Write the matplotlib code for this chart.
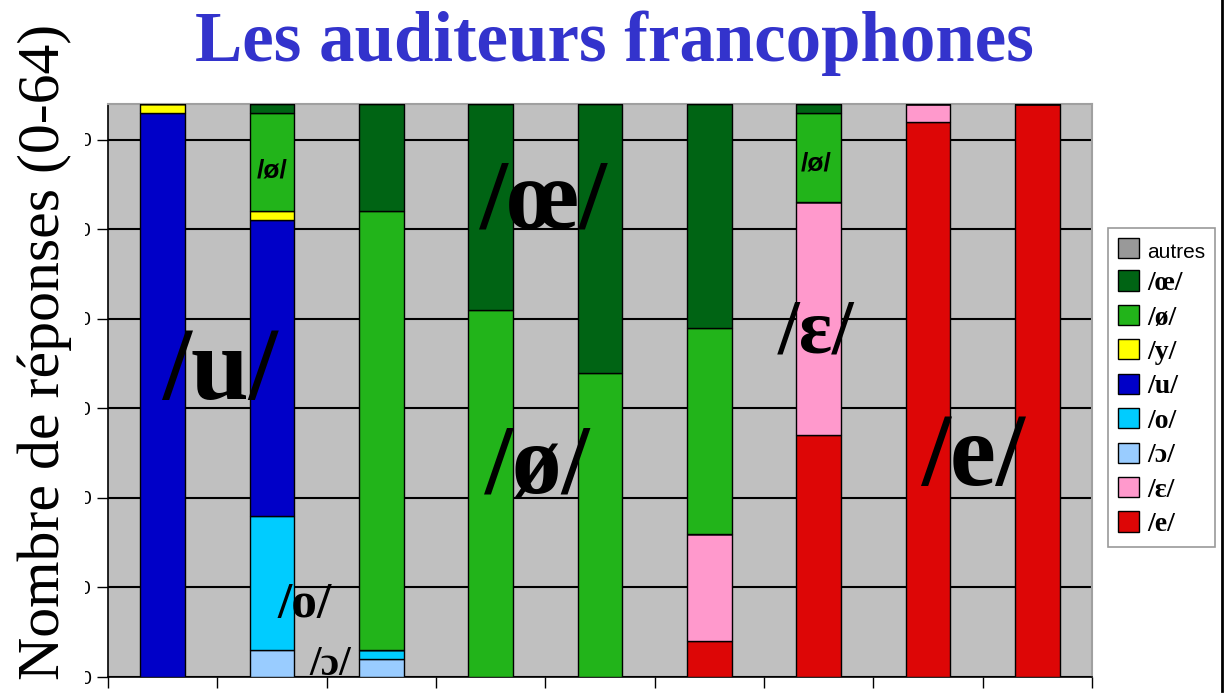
import numpy as np
import matplotlib
matplotlib.use("Agg")
import matplotlib.pyplot as plt
from matplotlib.patches import Patch, Rectangle
from matplotlib.lines import Line2D

# Réponses (0-64) des auditeurs francophones, 9 stimuli
stimuli = np.arange(9)
e_rep = [0, 0, 0, 0, 0, 4, 27, 62, 64]
eps_rep = [0, 0, 0, 0, 0, 12, 26, 2, 0]
oo_rep = [0, 3, 2, 0, 0, 0, 0, 0, 0]
o_rep = [0, 15, 1, 0, 0, 0, 0, 0, 0]
u_rep = [63, 33, 0, 0, 0, 0, 0, 0, 0]
y_rep = [1, 1, 0, 0, 0, 0, 0, 0, 0]
eu_rep = [0, 11, 49, 41, 34, 23, 10, 0, 0]
oe_rep = [0, 1, 12, 23, 30, 25, 1, 0, 0]
autres_rep = [0, 0, 0, 0, 0, 0, 0, 0, 0]

# ordre d'empilement (du bas vers le haut)
series = [
    ("/e/", e_rep, "#dd0606"),
    ("/ɛ/", eps_rep, "#ff99cc"),
    ("/ɔ/", oo_rep, "#99ccff"),
    ("/o/", o_rep, "#00ccff"),
    ("/u/", u_rep, "#0000c8"),
    ("/y/", y_rep, "#ffff00"),
    ("/ø/", eu_rep, "#22b41a"),
    ("/œ/", oe_rep, "#006414"),
    ("autres", autres_rep, "#999999"),
]

serif = ["Liberation Serif", "DejaVu Serif"]
sans = ["Liberation Sans", "DejaVu Sans"]

fig = plt.figure(figsize=(12.27, 6.94), dpi=100)
ax = fig.add_axes([108 / 1227, 17 / 694, (1092 - 108) / 1227, (677 - 104) / 694])
ax.set_facecolor("#c0c0c0")

bottom = np.zeros(len(stimuli))
for nom, vals, col in series:
    vals = np.array(vals, dtype=float)
    ax.bar(stimuli, vals, bottom=bottom, width=0.41, color=col,
           edgecolor="black", linewidth=1, zorder=3)
    bottom += vals

ax.set_xlim(-0.5, 8.5)
ax.set_ylim(0, 64)
ax.set_yticks(np.arange(0, 61, 10))
ax.set_yticklabels([str(v) for v in range(0, 61, 10)], fontsize=14, family=sans)
ax.set_xticks(np.arange(-0.5, 8.6, 1))
ax.set_xticklabels([])
ax.tick_params(axis="y", length=8, width=1, direction="out", pad=4)
ax.tick_params(axis="x", length=8, width=1, direction="out")
ax.yaxis.grid(True, color="black", linewidth=1.5, zorder=1)
ax.set_axisbelow(True)
for s in ["top", "right"]:
    ax.spines[s].set_color("#a0a0a0")
    ax.spines[s].set_linewidth(1.5)
for s in ["left", "bottom"]:
    ax.spines[s].set_color("black")
    ax.spines[s].set_linewidth(1.2)

# étiquettes dans le graphique
big = dict(family=serif, fontweight="bold", ha="center", va="baseline", zorder=5)
ax.text(0.52, 31.0, "/u/", fontsize=75, **big)
ax.text(3.49, 50.2, "/œ/", fontsize=72, **big)
ax.text(3.43, 20.6, "/ø/", fontsize=72, **big)
ax.text(7.41, 21.5, "/e/", fontsize=75, **big)
ax.text(5.98, 36.3, "/ɛ/", fontsize=56, **big)
ax.text(1.30, 6.7, "/o/", fontsize=37, **big)
ax.text(1.53, 0.2, "/ɔ/", fontsize=30, **big)
small = dict(family=sans, fontweight="bold", ha="center", va="baseline", fontsize=19, zorder=5)
ax.text(1.0, 55.8, "/ø/", **small)
ax.text(5.98, 56.6, "/ø/", **small)

# légende
handles = [Patch(facecolor=c, edgecolor="black", linewidth=1) for _, _, c in series][::-1]
labels = [n for n, _, _ in series][::-1]
leg = fig.legend(handles, labels, loc="upper left",
                 bbox_to_anchor=(1108 / 1227, 1 - 228 / 694),
                 frameon=True, fancybox=False, edgecolor="#808080",
                 handlelength=0.75, handleheight=0.75, handletextpad=0.3,
                 labelspacing=0.31, borderpad=0.35, borderaxespad=0,
                 prop={"size": 20})
leg.get_frame().set_linewidth(1.2)
for t in leg.get_texts():
    if t.get_text() == "autres":
        t.set_fontfamily(sans)
        t.set_fontsize(15)
    else:
        t.set_fontfamily(serif)
        t.set_fontweight("bold")

# titre
fig.text(614 / 1227, 1 - 43 / 694, "Les auditeurs francophones", family=serif,
         fontweight="bold", fontsize=51, color="#3333cc", ha="center", va="center")

# étiquette de l'axe y (cache en partie les graduations)
fig.patches.append(Rectangle((0, 0), 85 / 1227, 1, transform=fig.transFigure,
                             facecolor="white", edgecolor="none", zorder=10))
fig.text(45 / 1227, 1 - 352 / 694, "Nombre de réponses (0-64)", family=serif,
         fontsize=43, rotation=90, ha="center", va="center", zorder=11)

# bordure droite
fig.add_artist(Line2D([1222 / 1227, 1222 / 1227], [0.005, 1], transform=fig.transFigure,
                      color="black", linewidth=2))

fig.savefig("out.png", dpi=100)
